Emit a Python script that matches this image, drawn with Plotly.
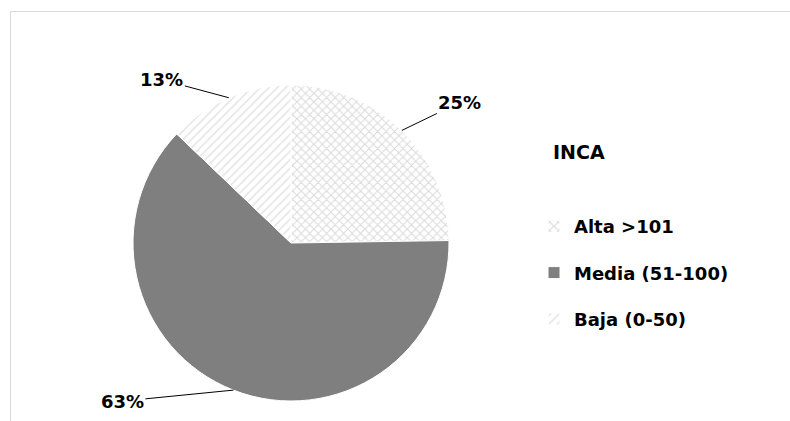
import math
import plotly.graph_objects as go

# INCA index categories and their share (%)
categories = ["Alta >101", "Media (51-100)", "Baja (0-50)"]
shares = [25, 63, 13]
legend_title = "INCA"

W, H = 790, 421
CX, CY, R = 291, 243, 158          # pie centre and radius in pixels

fill_colors = ["#ffffff", "#7f7f7f", "#ffffff"]
pattern_shapes = ["x", "", "/"]
pattern_fg = ["#b4b4b4", "#7f7f7f", "#c8c8c8"]
pattern_size = [6, 8, 6]
pattern_solidity = [0.3, 0.3, 0.25]
label_offsets = [(58, -28), (-111, 11), (-67, -18)]   # label position relative to slice edge (px)

font_family = "DejaVu Sans"

fig = go.Figure()
fig.add_trace(
    go.Pie(
        labels=categories,
        values=shares,
        sort=False,
        direction="clockwise",
        rotation=0,
        textinfo="none",
        hoverinfo="label+percent",
        marker=dict(
            colors=fill_colors,
            line=dict(color="#ffffff", width=1),
            pattern=dict(
                shape=pattern_shapes,
                fgcolor=pattern_fg,
                bgcolor=fill_colors,
                size=pattern_size,
                solidity=pattern_solidity,
                fillmode="overlay",
            ),
        ),
        domain=dict(
            x=[(CX - R) / W, (CX + R) / W],
            y=[1 - (CY + R) / H, 1 - (CY - R) / H],
        ),
    )
)

# An empty named group so the legend keeps one group per slice
# (this lets tracegroupgap space the entries apart).
fig.add_trace(go.Scatter(
    x=[None], y=[None], mode="lines", name="",
    line=dict(width=0, color="rgba(0,0,0,0)"),
    legendgroup="spacer", hoverinfo="skip",
))

# Percentage labels with leader lines, placed at each slice's mid-angle
total = sum(shares)
start = 0.0
annotations = []
for val, (ax, ay) in zip(shares, label_offsets):
    mid = (start + val / 2) / total * 2 * math.pi
    start += val
    px = CX + R * math.sin(mid)
    py = CY - R * math.cos(mid)
    annotations.append(dict(
        x=px / W, y=1 - py / H, xref="paper", yref="paper",
        text=f"{val:.0f}%", showarrow=True, arrowhead=0, arrowwidth=1,
        arrowcolor="#000000", standoff=0, ax=ax, ay=ay,
        font=dict(family=font_family, size=18, color="#000000", weight="bold"),
    ))

annotations.append(dict(
    x=551 / W, y=1 - 152 / H, xref="paper", yref="paper",
    xanchor="left", yanchor="middle", showarrow=False,
    text=legend_title,
    font=dict(family=font_family, size=19, color="#000000", weight="bold"),
))

fig.update_layout(
    width=W, height=H,
    margin=dict(l=0, r=0, t=0, b=0),
    paper_bgcolor="#ffffff",
    plot_bgcolor="rgba(0,0,0,0)",
    xaxis=dict(visible=False),
    yaxis=dict(visible=False),
    showlegend=True,
    legend=dict(
        x=534 / W, y=1 - 208 / H, xanchor="left", yanchor="top",
        traceorder="grouped", tracegroupgap=20,
        font=dict(family=font_family, size=18, color="#000000", weight="bold"),
        bgcolor="rgba(0,0,0,0)",
    ),
    annotations=annotations,
    shapes=[dict(
        type="rect", xref="paper", yref="paper",
        x0=10.5 / W, x1=1.02, y0=-0.02, y1=1 - 11.5 / H,
        line=dict(color="#d9d9d9", width=1), fillcolor="rgba(0,0,0,0)",
        layer="below",
    )],
)

fig.write_html("out.html")
